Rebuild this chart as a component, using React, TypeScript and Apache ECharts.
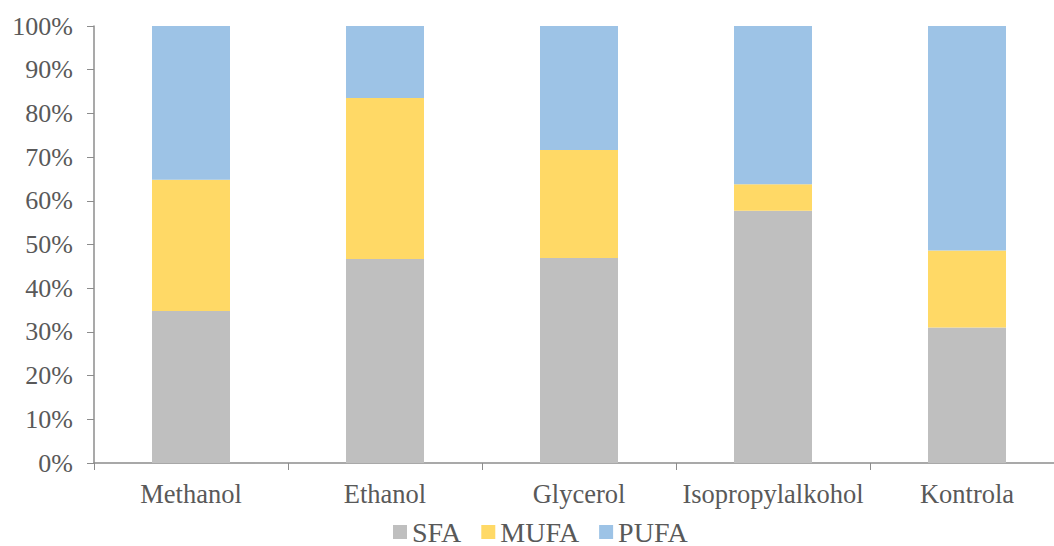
import React, { useEffect, useRef } from "react";
import * as echarts from "echarts";

const categories = ["Methanol", "Ethanol", "Glycerol", "Isopropylalkohol", "Kontrola"];
const sfa = [34.8, 46.7, 46.9, 57.7, 31.0];
const mufa = [30.0, 36.8, 24.7, 6.1, 17.6];
const pufa = [35.2, 16.5, 28.4, 36.2, 51.4];
const seriesNames = ["SFA", "MUFA", "PUFA"];
const colors = ["#BFBFBF", "#FFD966", "#9DC3E6"];

const FONT = "'Liberation Serif', 'Times New Roman', serif";
const TXT = "#595959";

export default function App() {
  const ref = useRef<HTMLDivElement>(null);
  useEffect(() => {
    if (!ref.current) return;
    const chart = echarts.init(ref.current, null, { renderer: "svg" });
    const data = [sfa, mufa, pufa];
    chart.setOption({
      animation: false,
      grid: { left: 94, top: 26, bottom: 83, right: 0, containLabel: false },
      legend: {
        top: 518,
        left: 393,
        padding: 0,
        data: seriesNames,
        itemWidth: 14,
        itemHeight: 14,
        itemGap: 20,
        icon: "rect",
        textStyle: { color: TXT, fontFamily: FONT, fontSize: 28 },
      },
      xAxis: {
        type: "category",
        data: categories,
        axisLine: { lineStyle: { color: "#8C8C8C", width: 1.5 } },
        axisTick: { show: true, length: 7, alignWithLabel: false, lineStyle: { color: "#8C8C8C" } },
        axisLabel: { color: TXT, fontFamily: FONT, fontSize: 26.5, margin: 17, interval: 0 },
      },
      yAxis: {
        type: "value",
        min: 0,
        max: 100,
        interval: 10,
        axisLine: { show: true, lineStyle: { color: "#8C8C8C", width: 1.5 } },
        axisTick: { show: true, length: 7, lineStyle: { color: "#8C8C8C" } },
        splitLine: { show: false },
        axisLabel: { color: TXT, fontFamily: FONT, fontSize: 26, margin: 21, formatter: "{value}%" },
      },
      series: seriesNames.map((n, i) => ({
        name: n,
        type: "bar",
        stack: "total",
        barWidth: 78,
        itemStyle: { color: colors[i] },
        data: data[i],
      })),
    });
    return () => chart.dispose();
  }, []);
  return (
    <div
      style={{ position: "fixed", left: 0, top: 0, width: 1054, height: 546, overflow: "hidden", background: "#fff" }}
    >
      <div ref={ref} style={{ position: "absolute", left: 0, top: 0, width: 1064, height: 546 }} />
    </div>
  );
}
